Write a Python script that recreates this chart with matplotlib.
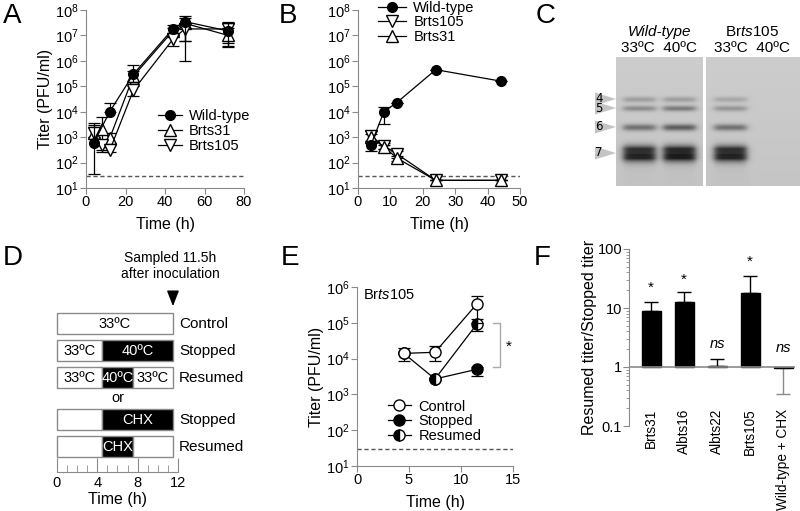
import numpy as np
import matplotlib
matplotlib.use('Agg')
import matplotlib.pyplot as plt
from matplotlib.patches import Rectangle, Polygon
from matplotlib.lines import Line2D
from matplotlib.ticker import LogLocator, NullFormatter, FixedLocator

plt.rcParams['font.family'] = ['Liberation Sans', 'DejaVu Sans']
plt.rcParams['font.size'] = 10.5
plt.rcParams['mathtext.fontset'] = 'custom'
plt.rcParams['mathtext.rm'] = 'Liberation Sans'
plt.rcParams['mathtext.it'] = 'Liberation Sans:italic'

W, H = 800, 511
GRAY = '#8a8a8a'

# ---- Panel A data (40C growth) ----
a_wt_t = [4, 12, 24, 44, 50, 72]
a_wt_y = [600, 1e4, 3e5, 1.8e7, 3.5e7, 1.5e7]
a_wt_lo = [35, 1e4, 1.5e5, 1.2e7, 6e6, 5e6]
a_wt_hi = [3500, 2.3e4, 7e5, 2.5e7, 6e7, 3e7]
a_31_t = [4, 8, 12, 24, 44, 50, 72]
a_31_y = [1500, 2000, 900, 2.5e5, 1.5e7, 3e7, 1e7]
a_31_lo = [1000, 300, 600, 1.5e5, 1e7, 6e6, 4e6]
a_31_hi = [3000, 6000, 1500, 4e5, 2e7, 5e7, 2e7]
a_105_t = [4, 8, 12, 24, 44, 50, 72]
a_105_y = [1500, 500, 300, 7e4, 7e6, 1.8e7, 1.8e7]
a_105_lo = [1000, 250, 250, 4e4, 4e6, 1e6, 3.5e6]
a_105_hi = [2500, 800, 500, 1e5, 1e7, 3e7, 3.3e7]
a_limit = 30

# ---- Panel B data ----
b_wt_t = [4, 8, 12, 24, 44]
b_wt_y = [500, 1e4, 2.3e4, 4.5e5, 1.6e5]
b_wt_lo = [280, 3300, 2.3e4, 4.5e5, 1.6e5]
b_wt_hi = [700, 1.6e4, 2.3e4, 4.5e5, 1.6e5]
b_105_t = [4, 8, 12, 24, 44]
b_105_y = [1100, 450, 220, 20, 20]
b_105_lo = [600, 350, 150, 20, 20]
b_105_hi = [1800, 600, 280, 20, 20]
b_31_t = [4, 8, 12, 24, 44]
b_31_y = [1000, 420, 150, 20, 20]
b_31_lo = [700, 350, 120, 20, 20]
b_31_hi = [1300, 500, 180, 20, 20]
b_limit = 30

# ---- Panel C gel data (band darkness per lane) ----
gel_bands = ['4', '5', '6', '7']
gel_lanes_left = [[0.25, 0.35, 0.50, 0.88], [0.25, 0.45, 0.62, 0.92]]
gel_lanes_right = [[0.20, 0.30, 0.50, 0.88], [0.0, 0.0, 0.0, 0.0]]

# ---- Panel D schematic ----
d_rows = ['Control', 'Stopped', 'Resumed', 'Stopped', 'Resumed']
d_segments = [
    [(0, 11.5, 'w', '33ºC')],
    [(0, 4.5, 'w', '33ºC'), (4.5, 11.5, 'k', '40ºC')],
    [(0, 4.5, 'w', '33ºC'), (4.5, 7.5, 'k', '40ºC'), (7.5, 11.5, 'w', '33ºC')],
    [(0, 4.5, 'w', ''), (4.5, 11.5, 'k', 'CHX')],
    [(0, 4.5, 'w', ''), (4.5, 7.5, 'k', 'CHX'), (7.5, 11.5, 'w', '')],
]
d_sample_time = 11.5

# ---- Panel E data ----
e_ctrl_t = [4.5, 7.5, 11.5]
e_ctrl_y = [1.4e4, 1.5e4, 3.3e5]
e_ctrl_lo = [8.5e3, 8.5e3, 1e5]
e_ctrl_hi = [2e4, 2.2e4, 5.5e5]
e_stop_t = [4.5, 7.5, 11.5]
e_stop_y = [1.4e4, 2.7e3, 5e3]
e_stop_lo = [1.4e4, 2.7e3, 3.3e3]
e_stop_hi = [1.4e4, 2.7e3, 6e3]
e_res_t = [7.5, 11.5]
e_res_y = [2.7e3, 9e4]
e_res_lo = [2.7e3, 6e4]
e_res_hi = [2.7e3, 1.3e5]
e_limit = 30

# ---- Panel F data ----
f_names = ['Brts31', 'Albts16', 'Albts22', 'Brts105', 'Wild-type + CHX']
f_vals = [8.8, 12.5, 1.05, 18, 0.95]
f_err_hi = [12.5, 19, 1.35, 35, 0.95]
f_err_lo = [8.8, 12.5, 1.05, 18, 0.35]
f_marks = ['*', '*', 'ns', '*', 'ns']
f_mark_y = [22, 30, 2.5, 60, 2.1]


def ax_px(fig, x0, y0, x1, y1, **kw):
    return fig.add_axes([x0 / W, 1 - y1 / H, (x1 - x0) / W, (y1 - y0) / H], **kw)


def style_axes(ax):
    for s in ['top', 'right']:
        ax.spines[s].set_visible(False)
    for s in ['left', 'bottom']:
        ax.spines[s].set_color(GRAY)
    ax.tick_params(color=GRAY, length=4, labelsize=10.5, pad=1)


def plot_series(ax, t, y, lo, hi, marker, fc, ms=7, **kw):
    t = np.array(t); y = np.array(y)
    err = [y - np.array(lo), np.array(hi) - y]
    return ax.errorbar(t, y, yerr=err, fmt='-', color='black', marker=marker, mfc=fc,
                       mec='black', ms=ms, lw=0.9, elinewidth=0.9, capsize=4, capthick=0.9, **kw)


def handle(marker, fc, ms=7, **kw):
    return Line2D([], [], color='black', marker=marker, mfc=fc, mec='black', ms=ms, lw=0.9, **kw)


def add_legend(ax, handles, labels, x, y, hl=1.6):
    ax.legend(handles, labels, loc='center left', bbox_to_anchor=(x, y), frameon=False,
              fontsize=10.5, handlelength=hl, handletextpad=0.5, labelspacing=0.05,
              borderaxespad=0)


def log_titer(ax, ymin, ymax):
    ax.set_yscale('log')
    ax.set_ylim(ymin, ymax)
    ax.yaxis.set_major_locator(LogLocator(base=10, numticks=12))
    ax.yaxis.set_minor_locator(plt.NullLocator())


fig = plt.figure(figsize=(8, 5.11), dpi=100)
ov = fig.add_axes([0, 0, 1, 1])
ov.set_xlim(0, W)
ov.set_ylim(H, 0)
ov.axis('off')

# panel letters
for lab, x, y in [('A', 12, 16), ('B', 288, 16), ('C', 546, 16),
                  ('D', 13, 258), ('E', 290, 258), ('F', 542, 258)]:
    ov.text(x, y, lab, fontsize=20, ha='center', va='center')

# ---- A ----
axA = ax_px(fig, 86, 10, 244, 188)
style_axes(axA)
plot_series(axA, a_wt_t, a_wt_y, a_wt_lo, a_wt_hi, 'o', 'black', zorder=3)
plot_series(axA, a_31_t, a_31_y, a_31_lo, a_31_hi, '^', 'white', ms=8)
plot_series(axA, a_105_t, a_105_y, a_105_lo, a_105_hi, 'v', 'white', ms=8)
axA.axhline(a_limit, color='#555555', ls='--', lw=1, dashes=(3, 2))
log_titer(axA, 10, 1e8)
axA.set_xlim(0, 80)
axA.set_xticks([0, 20, 40, 60, 80])
axA.set_xlabel('Time (h)', fontsize=11.5, labelpad=6)
axA.set_ylabel('Titer (PFU/ml)', fontsize=11.5, labelpad=2)
add_legend(axA, [handle('o', 'black'), handle('^', 'white', 8), handle('v', 'white', 8)],
           ['Wild-type', 'Brts31', 'Brts105'], 0.42, 0.32)

# ---- B ----
axB = ax_px(fig, 358, 10, 520, 188)
style_axes(axB)
plot_series(axB, b_wt_t, b_wt_y, b_wt_lo, b_wt_hi, 'o', 'black', zorder=3)
plot_series(axB, b_105_t, b_105_y, b_105_lo, b_105_hi, 'v', 'white', ms=8)
plot_series(axB, b_31_t, b_31_y, b_31_lo, b_31_hi, '^', 'white', ms=8)
axB.axhline(b_limit, color='#555555', ls='--', lw=1, dashes=(3, 2))
log_titer(axB, 10, 1e8)
axB.set_xlim(0, 50)
axB.set_xticks([0, 10, 20, 30, 40, 50])
axB.set_xlabel('Time (h)', fontsize=11.5, labelpad=6)
add_legend(axB, [handle('o', 'black'), handle('v', 'white', 8), handle('^', 'white', 8)],
           ['Wild-type', 'Brts105', 'Brts31'], 0.09, 0.93, hl=1.9)

# ---- C (gel) ----
def gel_image(lanes, width, height=129, centers=(23, 63)):
    yy, xx = np.mgrid[0:height, 0:width]
    img = np.full((height, width), 0.80) - 0.03 * (yy / height)
    band_y = [42, 51, 70, 96]
    band_s = [2.0, 2.0, 2.4, 5.0]
    for cx, lane in zip(centers, lanes):
        lane_mask = 1 / (1 + np.exp((np.abs(xx - cx) - 16) / 2.0))
        for by, bs, dark in zip(band_y, band_s, lane):
            prof = np.exp(-0.5 * ((yy - by) / bs) ** 2)
            if bs > 3:
                prof = np.clip(prof * 1.6, 0, 1)
            img -= dark * 0.68 * prof * lane_mask
        smear = lane[-1] * 0.06 * np.exp(-np.clip(yy - 96, 0, None) / 20) * (yy > 96)
        img -= smear * lane_mask
    return np.clip(img, 0, 1)

axC1 = ax_px(fig, 616, 57, 703, 186)
axC1.imshow(gel_image(gel_lanes_left, 87), cmap='gray', vmin=0, vmax=1, aspect='auto',
            interpolation='bilinear')
axC1.axis('off')
axC2 = ax_px(fig, 706, 57, 800, 186)
axC2.imshow(gel_image(gel_lanes_right, 94, centers=(24, 64)), cmap='gray', vmin=0, vmax=1,
            aspect='auto', interpolation='bilinear')
axC2.axis('off')
for lab, by in zip(gel_bands, [99, 108, 127, 153]):
    ov.add_patch(Polygon([[595, by - 6.5], [595, by + 6.5], [616, by]], closed=True,
                         color='#c4c4c4', lw=0))
    ov.text(599, by, lab, fontsize=8.5, ha='center', va='center', family='DejaVu Sans')
ov.text(659, 32, 'Wild-type', fontsize=11, style='italic', ha='center', va='center')
ov.text(659, 48, '33ºC  40ºC', fontsize=11, ha='center', va='center')
ov.text(752, 32, r'Br$\it{ts}$105', fontsize=11, ha='center', va='center')
ov.text(752, 48, '33ºC  40ºC', fontsize=11, ha='center', va='center')

# ---- D (schematic) ----
axD = ax_px(fig, 57, 250, 178, 472)
axD.set_xlim(0, 12)
axD.set_ylim(472, 250)
for s in ['top', 'right', 'left']:
    axD.spines[s].set_visible(False)
axD.spines['bottom'].set_color(GRAY)
axD.set_yticks([])
axD.set_xticks([0, 4, 8, 12])
axD.xaxis.set_minor_locator(FixedLocator([1, 2, 3, 5, 6, 7, 9, 10, 11]))
axD.tick_params(axis='x', which='major', direction='in', length=10, color=GRAY, labelsize=10.5, pad=3)
axD.tick_params(axis='x', which='minor', direction='in', length=5, color=GRAY)
axD.set_xlabel('Time (h)', fontsize=11.5, labelpad=1)
row_y = [313, 340, 367, 409, 436]
row_h = 21
for ry, name, segs in zip(row_y, d_rows, d_segments):
    for x0, x1, c, txt in segs:
        axD.add_patch(Rectangle((x0, ry), x1 - x0, row_h, facecolor=c, edgecolor=GRAY,
                                lw=1, clip_on=False))
        if txt:
            axD.text((x0 + x1) / 2, ry + row_h / 2 + 0.5, txt, fontsize=10.5, ha='center',
                     va='center', color='white' if c == 'k' else 'black', clip_on=False)
    axD.text(12.1, ry + row_h / 2 + 0.5, name, fontsize=11, ha='left', va='center', clip_on=False)
axD.text(6, 398, 'or', fontsize=10.5, ha='center', va='center')
axD.annotate('', xy=(d_sample_time, 309), xytext=(d_sample_time, 293),
             arrowprops=dict(arrowstyle='-|>,head_width=0.35,head_length=0.9', color='black', lw=1))
axD.text(d_sample_time - 0.3, 266, 'Sampled 11.5h\nafter inoculation', fontsize=10, ha='center',
         va='center', linespacing=1.15, clip_on=False)

# ---- E ----
axE = ax_px(fig, 357, 287, 513, 466)
style_axes(axE)
plot_series(axE, e_stop_t, e_stop_y, e_stop_lo, e_stop_hi, 'o', 'black', ms=8, zorder=2)
res = plot_series(axE, e_res_t, e_res_y, e_res_lo, e_res_hi, 'o', 'black', ms=8,
                  zorder=3, fillstyle='left')
res[0].set_markerfacecoloralt('white')
plot_series(axE, e_ctrl_t, e_ctrl_y, e_ctrl_lo, e_ctrl_hi, 'o', 'white', ms=8, zorder=4)
axE.axhline(e_limit, color='#555555', ls='--', lw=1, dashes=(3, 2))
log_titer(axE, 10, 1e6)
axE.set_xlim(0, 15)
axE.set_xticks([0, 5, 10, 15])
axE.set_xlabel('Time (h)', fontsize=11.5, labelpad=6)
axE.set_ylabel('Titer (PFU/ml)', fontsize=11.5, labelpad=2)
axE.text(0.6, 6e5, r'Br$\it{ts}$105', fontsize=10.5, ha='left', va='center')
add_legend(axE, [handle('o', 'white', 8), handle('o', 'black', 8),
                 handle('o', 'black', 8, fillstyle='left', markerfacecoloralt='white')],
           ['Control', 'Stopped', 'Resumed'], 0.16, 0.25)
axE.plot([13.1, 13.75, 13.75, 13.1], [1e5, 1e5, 6e3, 6e3], color='#aaaaaa', lw=1, clip_on=False)
axE.text(14.6, 2.2e4, '*', fontsize=11, ha='center', va='center', clip_on=False)

# ---- F ----
axF = ax_px(fig, 629, 249, 795, 426)
for s in ['top', 'right', 'bottom']:
    axF.spines[s].set_visible(False)
axF.spines['left'].set_color(GRAY)
xf = np.arange(len(f_names))
vals = np.array(f_vals)
axF.bar(xf, vals - 1, bottom=1, width=0.58, color='black', edgecolor='black', zorder=2)
err = np.array([vals - np.array(f_err_lo), np.array(f_err_hi) - vals])
axF.errorbar(xf[:4], vals[:4], yerr=err[:, :4], fmt='none', ecolor='black', elinewidth=1,
             capsize=5, capthick=1, zorder=1)
axF.errorbar(xf[4:], vals[4:], yerr=err[:, 4:], fmt='none', ecolor=GRAY, elinewidth=1,
             capsize=5, capthick=1, zorder=1)
axF.axhline(1, color=GRAY, lw=1.2, zorder=3)
for x, m, my in zip(xf, f_marks, f_mark_y):
    axF.text(x, my, m, fontsize=11 if m == '*' else 10.5, ha='center', va='center',
             style='italic' if m == 'ns' else 'normal')
axF.set_yscale('log')
axF.set_ylim(0.1, 100)
axF.set_xlim(-0.67, 4.36)
axF.set_yticks([0.1, 1, 10, 100])
axF.set_yticklabels(['0.1', '1', '10', '100'])
axF.yaxis.set_minor_formatter(NullFormatter())
axF.tick_params(axis='y', which='major', color=GRAY, length=4, labelsize=10.5, pad=1)
axF.tick_params(axis='y', which='minor', color=GRAY, length=2)
axF.set_xticks([])
for x, name in zip(xf, f_names):
    axF.text(x, 0.1, name, rotation=90, ha='center', va='top', fontsize=9.8,
             transform=axF.get_xaxis_transform())
axF.set_ylabel('Resumed titer/Stopped titer', fontsize=11.5, labelpad=0)

fig.savefig('out.png', dpi=100)
